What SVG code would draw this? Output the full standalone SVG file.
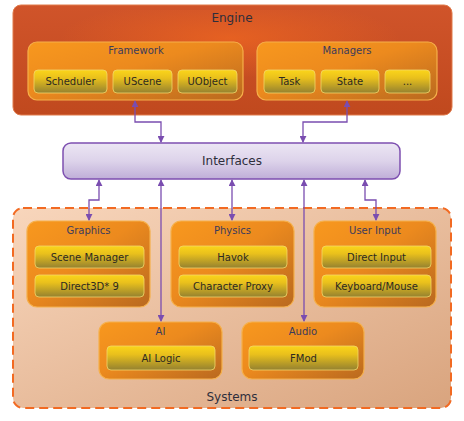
<svg xmlns="http://www.w3.org/2000/svg" width="464" height="421" viewBox="0 0 464 421">
<defs>
  <linearGradient id="gEngine" x1="0" y1="0" x2="0" y2="1">
    <stop offset="0" stop-color="#d0542a"/>
    <stop offset="1" stop-color="#c0491e"/>
  </linearGradient>
  <radialGradient id="gGlow" cx="0.5" cy="0.35" r="0.5">
    <stop offset="0" stop-color="#ee6620" stop-opacity="0.75"/>
    <stop offset="1" stop-color="#ee6620" stop-opacity="0"/>
  </radialGradient>
  <linearGradient id="gGroup" x1="0" y1="0" x2="1" y2="1">
    <stop offset="0" stop-color="#f8981e"/>
    <stop offset="0.45" stop-color="#ec8a1e"/>
    <stop offset="1" stop-color="#b9691f"/>
  </linearGradient>
  <linearGradient id="gItem" x1="0" y1="0" x2="0" y2="1">
    <stop offset="0" stop-color="#fbd51a"/>
    <stop offset="0.35" stop-color="#e9c01c"/>
    <stop offset="1" stop-color="#948130"/>
  </linearGradient>
  <linearGradient id="gIface" x1="0" y1="0" x2="0" y2="1">
    <stop offset="0" stop-color="#ece6f4"/>
    <stop offset="0.5" stop-color="#ddd3ea"/>
    <stop offset="1" stop-color="#bfaed8"/>
  </linearGradient>
  <linearGradient id="gSys" x1="0" y1="0" x2="1" y2="1">
    <stop offset="0" stop-color="#f8d6bc"/>
    <stop offset="1" stop-color="#d9a47e"/>
  </linearGradient>
  <marker id="arr" viewBox="0 0 8 8" refX="7" refY="4" markerWidth="7" markerHeight="7" markerUnits="userSpaceOnUse" orient="auto-start-reverse">
    <path d="M0,0 L8,4 L0,8 z" fill="#7a4db0"/>
  </marker>
  <style>
    text { font-family: "DejaVu Sans", Verdana, sans-serif; text-anchor: middle; fill: #2e2e3c; }
    .big { font-size: 12px; }
    .ttl { font-size: 10px; fill: #3b3b5c; }
    .itm { font-size: 10px; fill: #2d2a20; }
    .group { fill: url(#gGroup); stroke: #f6b04a; stroke-width: 1.2; }
    .item { fill: url(#gItem); stroke: #f3d76a; stroke-width: 0.8; }
    .conn { fill: none; stroke: #7a4db0; stroke-width: 1.3; marker-start: url(#arr); marker-end: url(#arr); }
  </style>
</defs>

<g id="engine">
  <rect x="13" y="5" width="439" height="110" rx="8" fill="url(#gEngine)" stroke="#e07a4a" stroke-width="1"/>
  <rect x="60" y="10" width="340" height="80" rx="30" fill="url(#gGlow)"/>
  <text class="big" x="232" y="22">Engine</text>
</g>

<g id="framework">
  <rect class="group" x="28" y="42" width="215" height="58" rx="9"/>
  <text class="ttl" x="136" y="54">Framework</text>
  <g id="scheduler"><rect class="item" x="34" y="70" width="73" height="23" rx="4"/><text class="itm" x="70.5" y="85">Scheduler</text></g>
  <g id="uscene"><rect class="item" x="113" y="70" width="59" height="23" rx="4"/><text class="itm" x="142.5" y="85">UScene</text></g>
  <g id="uobject"><rect class="item" x="178" y="70" width="59" height="23" rx="4"/><text class="itm" x="207.5" y="85">UObject</text></g>
</g>

<g id="managers">
  <rect class="group" x="257" y="42" width="180" height="58" rx="9"/>
  <text class="ttl" x="347" y="54">Managers</text>
  <g id="task"><rect class="item" x="264" y="70" width="51" height="23" rx="4"/><text class="itm" x="289.5" y="85">Task</text></g>
  <g id="state"><rect class="item" x="321" y="70" width="58" height="23" rx="4"/><text class="itm" x="350" y="85">State</text></g>
  <g id="more"><rect class="item" x="385" y="70" width="45" height="23" rx="4"/><text class="itm" x="407.5" y="85">...</text></g>
</g>

<g id="interfaces">
  <rect x="63" y="143" width="337" height="36" rx="8" fill="url(#gIface)" stroke="#7d4fb0" stroke-width="1.5"/>
  <text class="big" x="232" y="165">Interfaces</text>
</g>

<g id="systems">
  <rect x="13" y="208" width="438" height="200" rx="10" fill="url(#gSys)" stroke="#f26a22" stroke-width="2" stroke-dasharray="9,5"/>
  <text class="big" x="232" y="401">Systems</text>
</g>

<g id="graphics">
  <rect class="group" x="27" y="221" width="123" height="86" rx="10"/>
  <text class="ttl" x="88.5" y="234">Graphics</text>
  <g id="scene-manager"><rect class="item" x="35" y="246" width="109" height="22" rx="4"/><text class="itm" x="89.5" y="261">Scene Manager</text></g>
  <g id="direct3d"><rect class="item" x="35" y="275" width="109" height="22" rx="4"/><text class="itm" x="89.5" y="290">Direct3D* 9</text></g>
</g>

<g id="physics">
  <rect class="group" x="171" y="221" width="123" height="86" rx="10"/>
  <text class="ttl" x="232.5" y="234">Physics</text>
  <g id="havok"><rect class="item" x="179" y="246" width="108" height="22" rx="4"/><text class="itm" x="233" y="261">Havok</text></g>
  <g id="character-proxy"><rect class="item" x="179" y="275" width="108" height="22" rx="4"/><text class="itm" x="233" y="290">Character Proxy</text></g>
</g>

<g id="user-input">
  <rect class="group" x="314" y="221" width="122" height="86" rx="10"/>
  <text class="ttl" x="375" y="234">User Input</text>
  <g id="direct-input"><rect class="item" x="322" y="246" width="109" height="22" rx="4"/><text class="itm" x="376.5" y="261">Direct Input</text></g>
  <g id="keyboard-mouse"><rect class="item" x="322" y="275" width="109" height="22" rx="4"/><text class="itm" x="376.5" y="290">Keyboard/Mouse</text></g>
</g>

<g id="ai">
  <rect class="group" x="99" y="322" width="123" height="57" rx="10"/>
  <text class="ttl" x="160.5" y="335">AI</text>
  <g id="ai-logic"><rect class="item" x="107" y="346" width="108" height="24" rx="4"/><text class="itm" x="161" y="362">AI Logic</text></g>
</g>

<g id="audio">
  <rect class="group" x="242" y="322" width="122" height="57" rx="10"/>
  <text class="ttl" x="303" y="335">Audio</text>
  <g id="fmod"><rect class="item" x="249" y="346" width="109" height="24" rx="4"/><text class="itm" x="303.5" y="362">FMod</text></g>
</g>

<g id="connectors">
  <path class="conn" d="M135,101 V122 H161 V142"/>
  <path class="conn" d="M347,101 V122 H303 V142"/>
  <path class="conn" d="M99,180 V200 H89 V220"/>
  <path class="conn" d="M161,180 V321"/>
  <path class="conn" d="M232,180 V220"/>
  <path class="conn" d="M304,180 V321"/>
  <path class="conn" d="M365,180 V200 H376 V220"/>
</g>
</svg>
